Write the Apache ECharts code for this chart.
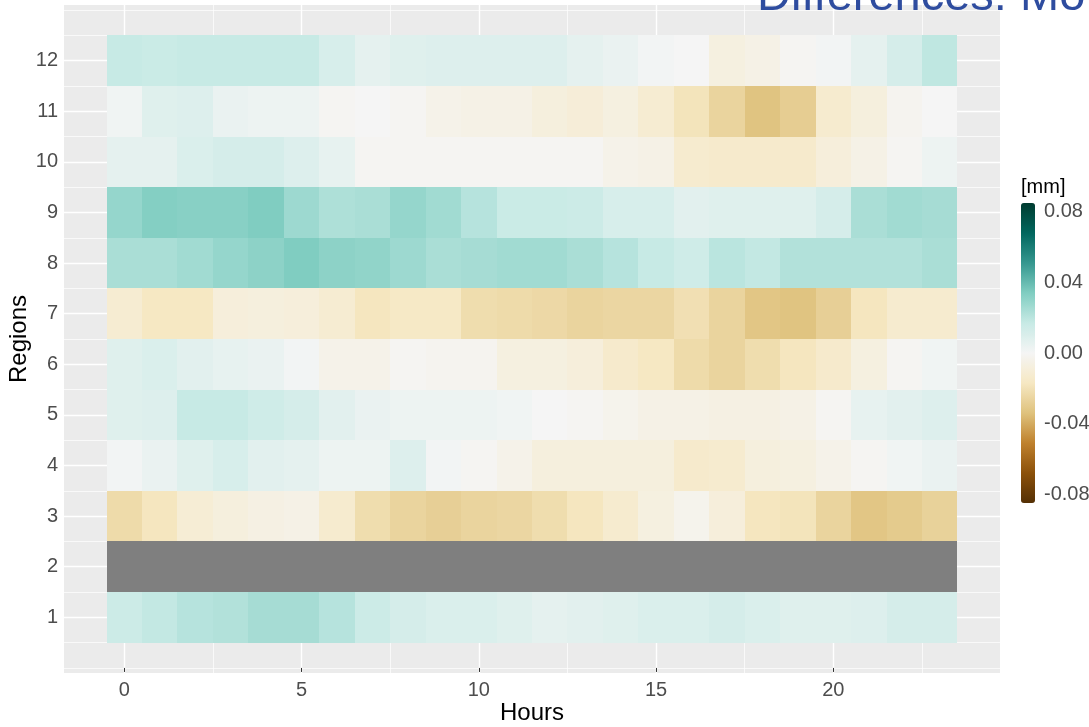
<!DOCTYPE html>
<html>
<head>
<meta charset="utf-8">
<script src="https://cdn.jsdelivr.net/npm/echarts@6/dist/echarts.min.js"></script>
<style>
  html, body { margin: 0; padding: 0; background: #fff; }
  #chart { width: 1089px; height: 727px; }
</style>
</head>
<body>
<div id="chart"></div>
<script>
// hours on x, regions on y
const hours = [0, 1, 2, 3, 4, 5, 6, 7, 8, 9, 10, 11, 12, 13, 14, 15, 16, 17, 18, 19, 20, 21, 22, 23];
const regions = [1, 2, 3, 4, 5, 6, 7, 8, 9, 10, 11, 12];

// differences [mm] per region, one value per hour (null = no data)
const region1 = [0.015, 0.018, 0.021, 0.022, 0.025, 0.025, 0.021, 0.015, 0.012, 0.010, 0.010, 0.008, 0.006, 0.007, 0.008, 0.010, 0.010, 0.012, 0.010, 0.008, 0.008, 0.009, 0.012, 0.012];
const region2 = [null, null, null, null, null, null, null, null, null, null, null, null, null, null, null, null, null, null, null, null, null, null, null, null];
const region3 = [-0.023, -0.018, -0.011, -0.008, -0.006, -0.005, -0.013, -0.022, -0.026, -0.028, -0.026, -0.025, -0.022, -0.018, -0.013, -0.007, -0.003, -0.009, -0.018, -0.019, -0.026, -0.032, -0.030, -0.027];
const region4 = [0.001, 0.004, 0.008, 0.011, 0.007, 0.006, 0.003, 0.003, 0.009, 0.001, -0.001, -0.004, -0.008, -0.008, -0.008, -0.008, -0.014, -0.013, -0.008, -0.007, -0.004, -0.001, 0.002, 0.004];
const region5 = [0.008, 0.009, 0.017, 0.017, 0.014, 0.012, 0.007, 0.004, 0.003, 0.003, 0.003, 0.002, 0.000, -0.001, -0.003, -0.005, -0.005, -0.006, -0.006, -0.005, -0.001, 0.005, 0.007, 0.009];
const region6 = [0.008, 0.010, 0.007, 0.005, 0.004, 0.001, -0.004, -0.004, -0.001, -0.002, -0.002, -0.007, -0.007, -0.009, -0.014, -0.017, -0.023, -0.026, -0.022, -0.018, -0.014, -0.007, -0.001, 0.002];
const region7 = [-0.012, -0.017, -0.017, -0.009, -0.008, -0.009, -0.012, -0.018, -0.016, -0.016, -0.022, -0.023, -0.024, -0.026, -0.025, -0.025, -0.021, -0.026, -0.032, -0.033, -0.028, -0.018, -0.013, -0.013];
const region8 = [0.024, 0.024, 0.026, 0.029, 0.031, 0.034, 0.031, 0.030, 0.027, 0.024, 0.025, 0.026, 0.026, 0.024, 0.021, 0.017, 0.014, 0.020, 0.018, 0.022, 0.022, 0.022, 0.022, 0.024];
const region9 = [0.029, 0.033, 0.032, 0.032, 0.034, 0.027, 0.023, 0.024, 0.029, 0.026, 0.021, 0.016, 0.016, 0.015, 0.011, 0.011, 0.007, 0.008, 0.008, 0.008, 0.012, 0.024, 0.026, 0.025];
const region10 = [0.006, 0.006, 0.010, 0.012, 0.012, 0.009, 0.005, -0.001, -0.001, -0.001, -0.001, -0.001, -0.001, -0.001, -0.004, -0.005, -0.013, -0.014, -0.014, -0.014, -0.009, -0.005, -0.001, 0.003];
const region11 = [0.002, 0.008, 0.009, 0.004, 0.003, 0.003, -0.001, 0.000, -0.001, -0.004, -0.005, -0.005, -0.008, -0.010, -0.007, -0.012, -0.019, -0.026, -0.033, -0.029, -0.013, -0.008, -0.002, 0.000];
const region12 = [0.017, 0.016, 0.017, 0.017, 0.017, 0.017, 0.011, 0.006, 0.008, 0.009, 0.009, 0.009, 0.009, 0.006, 0.004, 0.001, 0.000, -0.007, -0.005, -0.001, 0.001, 0.006, 0.012, 0.019];

// tick labels
const hourTicks = [0, 5, 10, 15, 20];
const hourMinorTicks = [2.5, 7.5, 12.5, 17.5, 22.5];
const regionMinorTicks = [0, 0.5, 1.5, 2.5, 3.5, 4.5, 5.5, 6.5, 7.5, 8.5, 9.5, 10.5, 11.5, 12.5, 13];
const legendTicks = [-0.08, -0.04, 0, 0.04, 0.08];

const regionRows = [region1, region2, region3, region4, region5, region6, region7, region8, region9, region10, region11, region12];

// BrBG 11
const brbg = ['#543005', '#8c510a', '#bf812d', '#dfc27d', '#f6e8c3', '#f5f5f5', '#c7eae5', '#80cdc1', '#35978f', '#01665e', '#003c30'];

const cells = [];
const naCells = [];
regionRows.forEach((row, ri) => {
    row.forEach((v, hi) => {
        if (v === null) {
            naCells.push([hours[hi], regions[ri]]);
        } else {
            cells.push([hours[hi], regions[ri], v]);
        }
    });
});

// draw a tile of 1 hour x 1 region through the axes (snapped to whole pixels, no seams)
function tile(fill) {
    return function (params, api) {
        const x = api.value(0);
        const y = api.value(1);
        const p0 = api.coord([x - 0.5, y + 0.5]);
        const p1 = api.coord([x + 0.5, y - 0.5]);
        const x0 = Math.round(p0[0]);
        const y0 = Math.round(p0[1]);
        return {
            type: 'rect',
            shape: { x: x0, y: y0, width: Math.round(p1[0]) - x0, height: Math.round(p1[1]) - y0 },
            style: { fill: fill || api.visual('color') },
        };
    };
}

const font = 'Liberation Sans';
const chart = echarts.init(document.getElementById('chart'));

const option = {
    animation: false,
    backgroundColor: '#ffffff',
    textStyle: { fontFamily: font },
    title: {
        text: 'Differences: Mo',
        left: 757,
        top: -26,
        padding: 0,
        textStyle: { color: '#2E4C9F', fontSize: 47, fontWeight: 'normal', fontFamily: font },
    },
    grid: [
        {
            left: 64, right: 89, top: 5, bottom: 54,
            containLabel: false, outerBoundsMode: 'none',
            show: true, backgroundColor: '#EBEBEB', borderWidth: 0,
        },
        {
            left: 1021, top: 203, width: 14, height: 300,
            containLabel: false, outerBoundsMode: 'none',
            show: false,
        },
    ],
    xAxis: [
        {
            type: 'value', gridIndex: 0, min: -1.7, max: 24.7,
            name: 'Hours', nameLocation: 'middle', nameGap: 28, nameMoveOverlap: false,
            nameTextStyle: { color: '#000', fontSize: 24, fontFamily: font },
            axisLine: { show: false },
            axisTick: { show: true, customValues: hourTicks, length: 4, lineStyle: { color: '#333', width: 1 } },
            axisLabel: { customValues: hourTicks, color: '#4D4D4D', fontSize: 20, margin: 7, fontFamily: font },
            splitLine: { show: true, lineStyle: { color: '#fff', width: 1.4 } },
            z: 2,
        },
        {
            type: 'value', gridIndex: 0, min: -1.7, max: 24.7, position: 'top',
            axisLine: { show: false },
            axisTick: { show: false, customValues: hourMinorTicks },
            axisLabel: { show: false, customValues: hourMinorTicks },
            splitLine: { show: true, lineStyle: { color: '#fff', width: 0.7 } },
            z: 1,
        },
        { type: 'value', gridIndex: 1, min: 0, max: 1, show: false },
    ],
    yAxis: [
        {
            type: 'value', gridIndex: 0, min: -0.1, max: 13.1,
            name: 'Regions', nameLocation: 'middle', nameGap: 33, nameMoveOverlap: false,
            nameTextStyle: { color: '#000', fontSize: 24, fontFamily: font },
            axisLine: { show: false },
            axisTick: { show: true, customValues: regions, length: 4, lineStyle: { color: '#333', width: 1 } },
            axisLabel: { customValues: regions, color: '#4D4D4D', fontSize: 20, margin: 6, fontFamily: font },
            splitLine: { show: true, lineStyle: { color: '#fff', width: 1.4 } },
            z: 2,
        },
        {
            type: 'value', gridIndex: 0, min: -0.1, max: 13.1, position: 'right',
            axisLine: { show: false },
            axisTick: { show: false, customValues: regionMinorTicks },
            axisLabel: { show: false, customValues: regionMinorTicks },
            splitLine: { show: true, lineStyle: { color: '#fff', width: 0.7 } },
            z: 1,
        },
        {
            type: 'value', gridIndex: 1, min: -0.085, max: 0.085, position: 'right',
            name: '[mm]', nameLocation: 'end', nameGap: 6, nameMoveOverlap: false,
            nameTextStyle: { color: '#000', fontSize: 20, fontFamily: font, align: 'left' },
            axisLine: { show: false },
            axisTick: { show: true, inside: true, customValues: legendTicks, length: 3, lineStyle: { color: '#fff', width: 1 } },
            axisLabel: {
                customValues: legendTicks, color: '#4D4D4D', fontSize: 20, margin: 9, fontFamily: font,
                formatter: (v) => v.toFixed(2),
            },
            splitLine: { show: false },
            z: 10,
        },
    ],
    visualMap: {
        type: 'continuous',
        seriesIndex: 0,
        dimension: 2,
        min: -0.085,
        max: 0.085,
        calculable: false,
        hoverLink: false,
        left: 1021,
        top: 203,
        padding: 0,
        itemWidth: 14,
        itemHeight: 300,
        text: null,
        inRange: { color: brbg },
    },
    series: [
        {
            type: 'custom',
            name: 'diff',
            xAxisIndex: 0,
            yAxisIndex: 0,
            renderItem: tile(null),
            encode: { x: 0, y: 1 },
            data: cells,
            clip: true,
            z: 3,
        },
        {
            type: 'custom',
            name: 'NA',
            xAxisIndex: 0,
            yAxisIndex: 0,
            renderItem: tile('#7F7F7F'),
            encode: { x: 0, y: 1 },
            data: naCells,
            clip: true,
            z: 3,
        },
    ],
};

chart.setOption(option);
</script>
</body>
</html>
